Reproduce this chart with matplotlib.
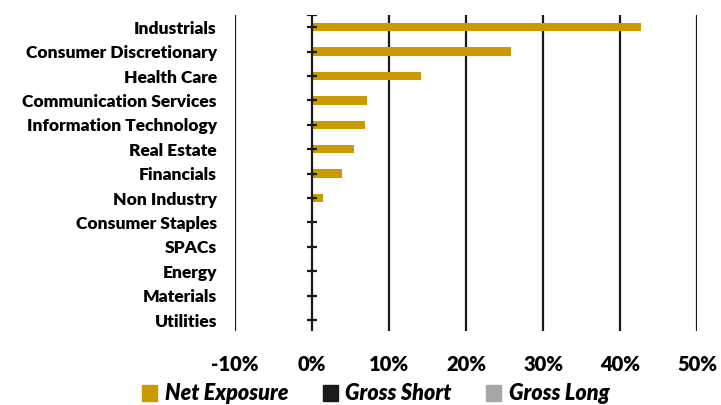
import matplotlib
matplotlib.use("Agg")
import matplotlib.pyplot as plt
from matplotlib.patches import Patch

categories = ["Industrials", "Consumer Discretionary", "Health Care",
              "Communication Services", "Information Technology", "Real Estate",
              "Financials", "Non Industry", "Consumer Staples", "SPACs",
              "Energy", "Materials", "Utilities"]
net_exposure = [42.7, 25.9, 14.1, 7.2, 6.9, 5.5, 3.9, 1.4, 0, 0, 0, 0, 0]
gross_short = [0] * 13
gross_long = [0] * 13
xticks = [-10, 0, 10, 20, 30, 40, 50]
xtick_labels = ["-10%", "0%", "10%", "20%", "30%", "40%", "50%"]

plt.rcParams['font.family'] = ['Lato', 'DejaVu Sans']

fig = plt.figure(figsize=(7.21, 4.05), dpi=100)
ax = fig.add_axes([235/721, 1-331/405, (697-235)/721, (331-15)/405])

c_net = "#CC9900"
c_short = "#1A1A1A"
c_long = "#A6A6A6"

y = list(range(len(categories)))
ax.barh(y, net_exposure, height=0.34, color=c_net, zorder=3)

ax.set_xlim(-10, 50)
ax.set_ylim(12.45, -0.5)
ax.set_xticks(xticks)
ax.set_xticklabels(xtick_labels, fontsize=14.5, fontweight='heavy')
ax.tick_params(axis='x', length=0, pad=17)
ax.set_yticks(y)
ax.set_yticklabels(categories, fontsize=12.5, fontweight='heavy')
ax.tick_params(axis='y', length=0, pad=13)

for s in ax.spines.values():
    s.set_visible(False)
for xv in xticks:
    if xv != 0:
        ax.axvline(xv, color="#1a1a1a", lw=1.6, zorder=1)
ax.axvline(0, color="#1a1a1a", lw=1.6, zorder=4)
# category tick marks on the zero line
for yi in y + [-0.5]:
    ax.plot([-0.65, 0.65], [yi, yi], color="#1a1a1a", lw=1.6, zorder=4,
            solid_capstyle='butt')

handles = [Patch(color=c_net, label="Net Exposure"),
           Patch(color=c_short, label="Gross Short"),
           Patch(color=c_long, label="Gross Long")]
fig.legend(handles=handles, loc='center', bbox_to_anchor=(376/721, 1-394/405),
           ncol=3, frameon=False, handlelength=0.7, handleheight=0.7,
           handletextpad=0.35, columnspacing=1.6,
           prop={'size': 15.5, 'weight': 'heavy', 'style': 'italic'})

fig.savefig("out.png", dpi=100)
